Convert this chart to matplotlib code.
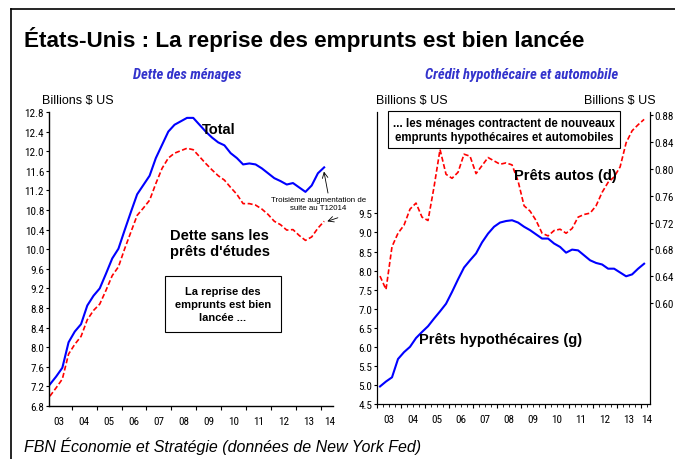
import matplotlib
matplotlib.use("Agg")
import matplotlib.pyplot as plt
from matplotlib.lines import Line2D
import numpy as np

# ---------------- data (quarterly, 2003T1 .. 2014T1) ----------------
quarters = np.arange(45)
total_debt = [7.24, 7.40, 7.58, 8.10, 8.32, 8.47, 8.85, 9.05, 9.20, 9.50,
              9.81, 10.01, 10.39, 10.76, 11.12, 11.31, 11.50, 11.86, 12.13, 12.40,
              12.54, 12.61, 12.68, 12.68, 12.54, 12.40, 12.28, 12.18, 12.12, 11.96,
              11.86, 11.73, 11.75, 11.73, 11.65, 11.55, 11.45, 11.39, 11.32, 11.35,
              11.26, 11.17, 11.30, 11.55, 11.67]
debt_ex_student = [7.00, 7.17, 7.35, 7.86, 8.06, 8.22, 8.56, 8.75, 8.88, 9.16,
                   9.46, 9.64, 10.01, 10.35, 10.69, 10.84, 11.00, 11.34, 11.65, 11.86,
                   11.96, 12.01, 12.06, 12.03, 11.89, 11.75, 11.62, 11.50, 11.41, 11.26,
                   11.12, 10.93, 10.93, 10.90, 10.82, 10.71, 10.57, 10.50, 10.39, 10.40,
                   10.28, 10.18, 10.25, 10.43, 10.57]
mortgage = [4.96, 5.09, 5.20, 5.68, 5.86, 6.00, 6.23, 6.39, 6.54, 6.74,
            6.93, 7.13, 7.44, 7.77, 8.08, 8.27, 8.45, 8.74, 8.97, 9.15,
            9.26, 9.30, 9.32, 9.26, 9.15, 9.06, 8.95, 8.84, 8.84, 8.71,
            8.62, 8.47, 8.55, 8.53, 8.40, 8.27, 8.20, 8.16, 8.05, 8.05,
            7.95, 7.85, 7.90, 8.05, 8.18]
auto = [0.640, 0.620, 0.684, 0.704, 0.716, 0.740, 0.749, 0.728, 0.723, 0.773,
        0.829, 0.792, 0.786, 0.795, 0.822, 0.819, 0.793, 0.805, 0.817, 0.812,
        0.807, 0.809, 0.806, 0.782, 0.745, 0.737, 0.723, 0.704, 0.700, 0.708,
        0.710, 0.704, 0.711, 0.728, 0.732, 0.734, 0.745, 0.765, 0.780, 0.788,
        0.803, 0.839, 0.857, 0.866, 0.874]
year_labels = ["03", "04", "05", "06", "07", "08", "09", "10", "11", "12", "13", "14"]
left_yticks = [6.8, 7.2, 7.6, 8.0, 8.4, 8.8, 9.2, 9.6, 10.0, 10.4, 10.8, 11.2, 11.6, 12.0, 12.4, 12.8]
mort_yticks = [4.5, 5.0, 5.5, 6.0, 6.5, 7.0, 7.5, 8.0, 8.5, 9.0, 9.5]
auto_yticks = [0.60, 0.64, 0.68, 0.72, 0.76, 0.80, 0.84, 0.88]

x = 2003.125 + quarters * 0.25

NARROW = ["Roboto Condensed", "Liberation Sans", "DejaVu Sans"]
SANS = ["Liberation Sans", "DejaVu Sans"]
plt.rcParams["font.family"] = SANS

W, H = 675, 460
fig = plt.figure(figsize=(W / 100, H / 100), dpi=100)


def fx(px):
    return px / W


def fy(py):
    return 1 - py / H


BLUE = "#0000FF"
RED = "#FF0000"
SUBCOL = "#3333CC"

# outer frame (top and left lines)
fig.add_artist(Line2D([fx(11), 1.0], [fy(10), fy(10)], color="black", lw=1.2, transform=fig.transFigure))
fig.add_artist(Line2D([fx(11), fx(11)], [fy(10), 0.0], color="black", lw=1.2, transform=fig.transFigure))

# titles
fig.text(fx(24), fy(40), "États-Unis : La reprise des emprunts est bien lancée",
         fontsize=16.2, fontweight="bold", ha="left", va="center", family=SANS)
fig.text(fx(187), fy(75), "Dette des ménages", fontsize=10.5, fontweight="bold", style="italic",
         color=SUBCOL, ha="center", va="center", family=NARROW)
fig.text(fx(522), fy(75), "Crédit hypothécaire et automobile", fontsize=10.5, fontweight="bold",
         style="italic", color=SUBCOL, ha="center", va="center", family=NARROW)
fig.text(fx(42), fy(101), "Billions $ US", fontsize=9, ha="left", va="center", family=SANS)
fig.text(fx(376), fy(101), "Billions $ US", fontsize=9, ha="left", va="center", family=SANS)
fig.text(fx(584), fy(101), "Billions $ US", fontsize=9, ha="left", va="center", family=SANS)
fig.text(fx(24), fy(446), "FBN Économie et Stratégie (données de New York Fed)", fontsize=11.5,
         style="italic", ha="left", va="center", family=SANS)


def style_xaxis(ax, x0, x1, last_label_pos, minor):
    ax.set_xlim(x0, x1)
    ax.set_xticks(list(range(2004 if not minor else 2003, 2015)))
    ax.set_xticklabels([])
    ax.tick_params(axis="x", which="major", length=3, width=0.8, direction="out")
    label_pos = [2003.5 + k for k in range(11)] + [last_label_pos]
    for p, lab in zip(label_pos, year_labels):
        ax.text(p, -0.035, lab, transform=ax.get_xaxis_transform(), ha="center", va="top",
                fontsize=8, family=NARROW)
    if minor:
        ax.set_xticks(np.arange(2003.0, 2014.4, 0.25), minor=True)
        ax.tick_params(axis="x", which="minor", length=1.8, width=0.6, direction="out")


# ---------------- left panel ----------------
axL = fig.add_axes([fx(49), fy(407), fx(333) - fx(49), fy(113) - fy(407)])
axL.plot(x, total_debt, color=BLUE, lw=1.5)
axL.plot(x, debt_ex_student, color=RED, lw=1.2, ls=(0, (3, 1.5)))
axL.set_ylim(6.8, 12.8)
axL.set_yticks(left_yticks)
axL.set_yticklabels([f"{v:.1f}" for v in left_yticks], family=NARROW, fontsize=8)
axL.tick_params(axis="y", length=2.5, width=0.8, pad=1)
style_xaxis(axL, 2003.09, 2014.48, 2014.33, minor=False)
for s in ["top", "right"]:
    axL.spines[s].set_visible(False)
for s in ["left", "bottom"]:
    axL.spines[s].set_linewidth(1.0)

axL.text(2009.9, 12.45, "Total", fontsize=10.5, fontweight="bold", ha="center", va="center",
         family=SANS)
axL.text(2007.95, 10.12, "Dette sans les\nprêts d'études", fontsize=10.5, fontweight="bold",
         ha="left", va="center", linespacing=1.2, family=SANS)
axL.text(2010.06, 8.88, "La reprise des\nemprunts est bien\nlancée ...", fontsize=8,
         fontweight="bold", ha="center", va="center", linespacing=1.35, family=SANS,
         bbox=dict(boxstyle="square,pad=0.9", fc="white", ec="black", lw=0.8))
axL.text(2013.9, 10.93, "Troisième augmentation de\nsuite au T12014", fontsize=5.7,
         ha="center", va="center", family=SANS, linespacing=1.3, clip_on=False)
axL.annotate("", xy=(x[-1] - 0.03, total_debt[-1] - 0.03), xytext=(2014.3, 11.09),
             arrowprops=dict(arrowstyle="->", lw=0.6, color="black"), annotation_clip=False)
axL.annotate("", xy=(x[-1] + 0.02, debt_ex_student[-1] - 0.02), xytext=(2014.78, 10.66),
             arrowprops=dict(arrowstyle="->", lw=0.6, color="black"), annotation_clip=False)

# ---------------- right panel ----------------
axR = fig.add_axes([fx(377), fy(405), fx(650) - fx(377), fy(113) - fy(405)])
axR.plot(x, mortgage, color=BLUE, lw=1.5)
axR.set_ylim(4.5, 12.16)
axR.set_yticks(mort_yticks)
axR.set_yticklabels([f"{v:.1f}" for v in mort_yticks], family=NARROW, fontsize=8)
axR.tick_params(axis="y", length=2.5, width=0.8, pad=1)
style_xaxis(axR, 2003.0, 2014.37, 2014.23, minor=True)
axR.spines["top"].set_visible(False)

axR2 = axR.twinx()
axR2.plot(x, auto, color=RED, lw=1.2, ls=(0, (3, 1.5)))
axR2.set_ylim(0.449, 0.885)
axR2.set_yticks(auto_yticks)
axR2.set_yticklabels([f"{v:.2f}" for v in auto_yticks], family=NARROW, fontsize=8)
axR2.tick_params(axis="y", length=2.5, width=0.8, pad=1)
axR2.spines["top"].set_visible(False)

axR.text(2010.84, 10.5, "Prêts autos (d)", fontsize=10.5, fontweight="bold", ha="center",
         va="center", family=SANS)
axR.text(2008.14, 6.2, "Prêts hypothécaires (g)", fontsize=10.5, fontweight="bold",
         ha="center", va="center", family=SANS)
axR.text(2008.28, 11.69, "... les ménages contractent de nouveaux\nemprunts hypothécaires et automobiles",
         fontsize=8.3, fontweight="bold", ha="center", va="center", linespacing=1.3, family=SANS,
         bbox=dict(boxstyle="square,pad=0.45", fc="white", ec="black", lw=0.8), zorder=5)
axR.set_zorder(axR2.get_zorder() + 1)
axR.patch.set_visible(False)

fig.savefig("out.png", dpi=100)
